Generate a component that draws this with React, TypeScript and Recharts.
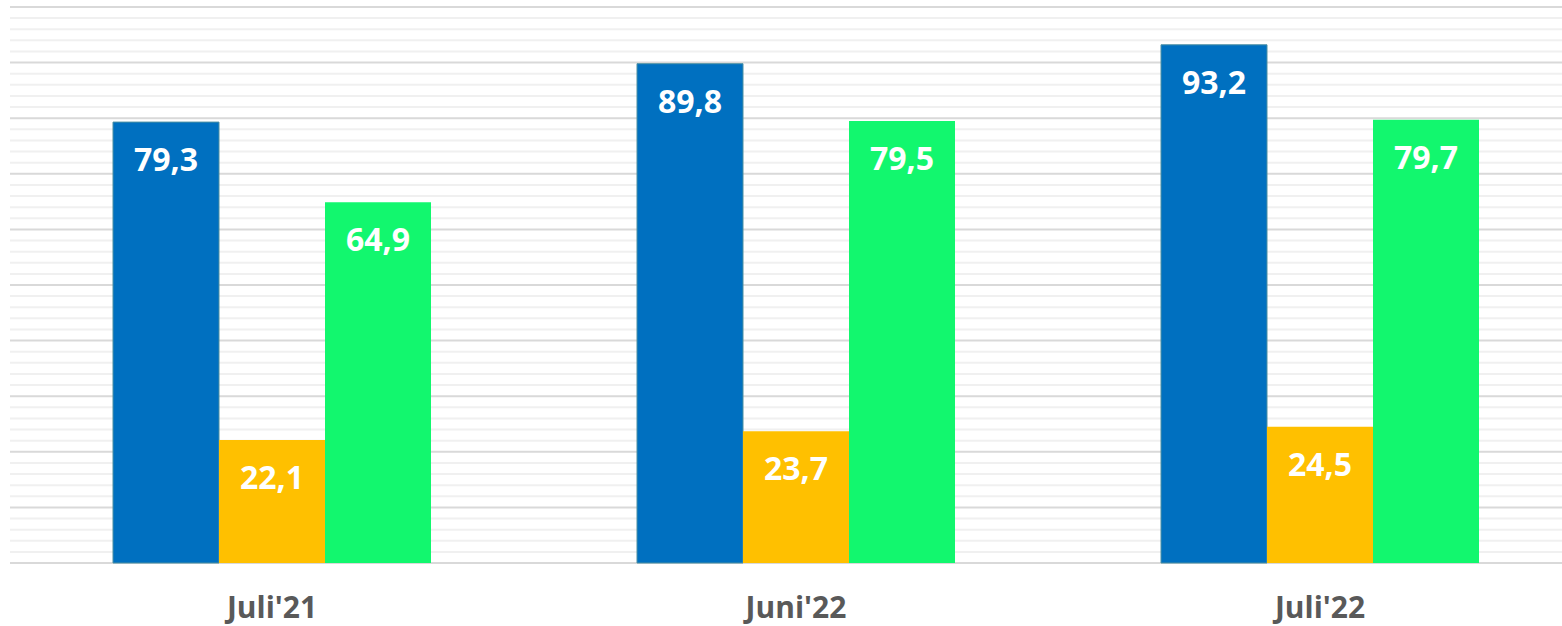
import React from "react";
import { BarChart, Bar, XAxis, YAxis, CartesianGrid, LabelList } from "recharts";

const categories = ["Juli'21", "Juni'22", "Juli'22"];
const seriesA = [79.3, 89.8, 93.2];
const seriesB = [22.1, 23.7, 24.5];
const seriesC = [64.9, 79.5, 79.7];
const majorGrid = [0, 10, 20, 30, 40, 50, 60, 70, 80, 90, 100];
const minorGrid = [2, 4, 6, 8, 12, 14, 16, 18, 22, 24, 26, 28, 32, 34, 36, 38, 42, 44, 46, 48, 52, 54, 56, 58, 62, 64, 66, 68, 72, 74, 76, 78, 82, 84, 86, 88, 92, 94, 96, 98];
const allGrid = [...majorGrid, ...minorGrid].sort((p, q) => p - q);

const data = categories.map((c, i) => ({ name: c, a: seriesA[i], b: seriesB[i], c: seriesC[i] }));

const FONT = "'Open Sans', sans-serif";

const fmt = (v: number) => v.toFixed(1).replace(".", ",");

// plot geometry used only to tell major from minor grid lines
const PLOT_TOP = 7;
const PLOT_H = 556;

const ValueLabel = (props: any) => {
  const { x, y, width, value } = props;
  return (
    <text
      x={x + width / 2}
      y={y + 49}
      textAnchor="middle"
      fill="#FFFFFF"
      fontFamily={FONT}
      fontWeight={700}
      fontSize={32}
    >
      {fmt(value)}
    </text>
  );
};

const Tick = (props: any) => {
  const { x, y, payload } = props;
  return (
    <text x={x} y={y + 47} textAnchor="middle" fill="#595959" fontFamily={FONT} fontWeight={700} fontSize={30}>
      {payload.value}
    </text>
  );
};

const GridLine = (props: any) => {
  const { x1, x2, y1, y2 } = props;
  const v = Math.round(((PLOT_TOP + PLOT_H - y1) / PLOT_H) * 100);
  const major = majorGrid.includes(v);
  return (
    <line
      x1={x1}
      x2={x2}
      y1={y1}
      y2={y2}
      stroke={major ? "#D9D9D9" : "#F0F0F0"}
      strokeWidth={2}
    />
  );
};

export default function App() {
  return (
    <div style={{ position: "absolute", left: 0, top: 0, width: 1562, height: 626, overflow: "hidden", background: "#fff" }}>
      <BarChart
        width={1592}
        height={626}
        data={data}
        margin={{ top: PLOT_TOP, left: 10, right: 10, bottom: 0 }}
        barGap={0}
        barSize={106}
      >
        <YAxis hide domain={[0, 100]} type="number" ticks={allGrid} interval={0} />
        <CartesianGrid vertical={false} horizontal={(p: any) => <GridLine {...p} />} />
        <XAxis dataKey="name" height={63} axisLine={false} tickLine={false} tick={<Tick />} interval={0} />
        <Bar dataKey="a" fill="#0070C0" stroke="#4A8FA3" strokeWidth={1} isAnimationActive={false}>
          <LabelList dataKey="a" content={<ValueLabel />} />
        </Bar>
        <Bar dataKey="b" fill="#FFC000" isAnimationActive={false}>
          <LabelList dataKey="b" content={<ValueLabel />} />
        </Bar>
        <Bar dataKey="c" fill="#12F76E" isAnimationActive={false}>
          <LabelList dataKey="c" content={<ValueLabel />} />
        </Bar>
      </BarChart>
    </div>
  );
}
